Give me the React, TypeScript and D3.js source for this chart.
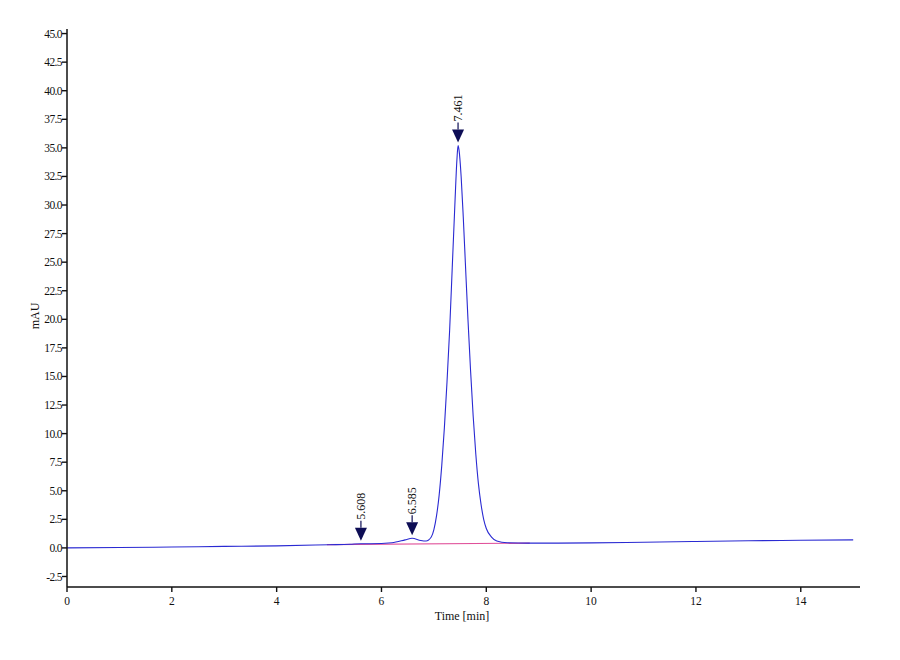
import React from "react";
import * as d3 from "d3";

const times = [0, 1, 2, 3, 4, 5, 5.4, 5.608, 5.8, 6.2, 6.45, 6.585, 6.75, 6.85, 6.95, 7.0, 7.05, 7.1, 7.15, 7.2, 7.25, 7.3, 7.35, 7.4, 7.44, 7.461, 7.48, 7.52, 7.56, 7.6, 7.65, 7.7, 7.75, 7.8, 7.85, 7.9, 7.95, 8.0, 8.1, 8.2, 8.4, 8.8, 9, 10, 11, 12, 13, 14, 15];
const signal = [0.0, 0.03, 0.08, 0.13, 0.18, 0.28, 0.32, 0.36, 0.36, 0.45, 0.7, 0.85, 0.65, 0.6, 0.95, 1.6, 2.8, 4.6, 7.2, 10.5, 14.5, 19.0, 24.5, 30.0, 34.0, 35.2, 34.8, 32.5, 29.0, 25.0, 20.0, 15.5, 11.5, 8.2, 5.6, 3.8, 2.5, 1.7, 0.95, 0.6, 0.45, 0.42, 0.42, 0.44, 0.5, 0.56, 0.62, 0.67, 0.7];

const baselineTimes = [4.96, 8.83];
const baselineValues = [0.28, 0.42];

const peakTimes = [5.608, 6.585, 7.461];
const peakHeights = [0.36, 0.85, 35.2];
const peakLabels = ["5.608", "6.585", "7.461"];

const yTicks = [-2.5, 0, 2.5, 5, 7.5, 10, 12.5, 15, 17.5, 20, 22.5, 25, 27.5, 30, 32.5, 35, 37.5, 40, 42.5, 45];
const xTicks = [0, 2, 4, 6, 8, 10, 12, 14];

const FONT = "'Liberation Serif', 'Times New Roman', serif";

export default function App() {
  const x = d3.scaleLinear().domain([0, 15.13]).range([67, 860]);
  const y = d3.scaleLinear().domain([-3.42, 45.4]).range([587, 29]);

  const pts: [number, number][] = times.map((t, i) => [t, signal[i]]);
  const line = d3
    .line<[number, number]>()
    .x((d) => x(d[0]))
    .y((d) => y(d[1]))
    .curve(d3.curveMonotoneX);

  const bpts: [number, number][] = baselineTimes.map((t, i) => [t, baselineValues[i]]);
  const bline = d3
    .line<[number, number]>()
    .x((d) => x(d[0]))
    .y((d) => y(d[1]));

  const x0 = x(0);
  const yBottom = y(-3.42);

  return (
    <svg width={900} height={660} style={{ position: "absolute", left: 0, top: 0, background: "#fff" }}>
      <rect x={0} y={0} width={900} height={660} fill="#fff" />
      {/* baseline (pink) */}
      <path d={bline(bpts) || ""} fill="none" stroke="#e0509a" strokeWidth={1.2} />
      {/* signal */}
      <path d={line(pts) || ""} fill="none" stroke="#2a2ad2" strokeWidth={1.1} />

      {/* peak markers */}
      {peakTimes.map((t, i) => {
        const px = x(t);
        const tip = y(peakHeights[i]) - 3;
        const top = tip - 13;
        return (
          <g key={i}>
            <path d={`M${px - 6},${top} L${px + 6},${top} L${px},${tip} Z`} fill="#0d0d55" />
            <line x1={px} x2={px} y1={top} y2={top - 7} stroke="#0d0d55" strokeWidth={1.2} />
            <text
              transform={`translate(${px + 4},${top - 8}) rotate(-90)`}
              fontFamily={FONT}
              fontSize={12}
              fill="#111"
            >
              {peakLabels[i]}
            </text>
          </g>
        );
      })}

      {/* y axis */}
      <line x1={x0} x2={x0} y1={29} y2={yBottom} stroke="#111" strokeWidth={1.5} />
      {yTicks.map((v) => (
        <g key={v}>
          <line x1={x0 - 5} x2={x0} y1={y(v)} y2={y(v)} stroke="#111" strokeWidth={1.4} />
          <text
            x={x0 - 5}
            y={y(v)}
            dy="0.35em"
            textAnchor="end"
            fontFamily={FONT}
            fontSize={11.5}
            letterSpacing={-0.6}
            fill="#111"
          >
            {v.toFixed(1)}
          </text>
        </g>
      ))}
      <text
        transform={`translate(39,316) rotate(-90)`}
        textAnchor="middle"
        fontFamily={FONT}
        fontSize={12}
        fill="#111"
      >
        mAU
      </text>

      {/* x axis */}
      <line x1={x0} x2={860} y1={yBottom} y2={yBottom} stroke="#111" strokeWidth={1.5} />
      {xTicks.map((v) => (
        <g key={v}>
          <line x1={x(v)} x2={x(v)} y1={yBottom} y2={yBottom + 5} stroke="#111" strokeWidth={1.4} />
          <text
            x={x(v)}
            y={yBottom + 18}
            textAnchor="middle"
            fontFamily={FONT}
            fontSize={11.5}
            fill="#111"
          >
            {v}
          </text>
        </g>
      ))}
      <text x={462} y={620} textAnchor="middle" fontFamily={FONT} fontSize={12} fill="#111">
        Time [min]
      </text>
    </svg>
  );
}
